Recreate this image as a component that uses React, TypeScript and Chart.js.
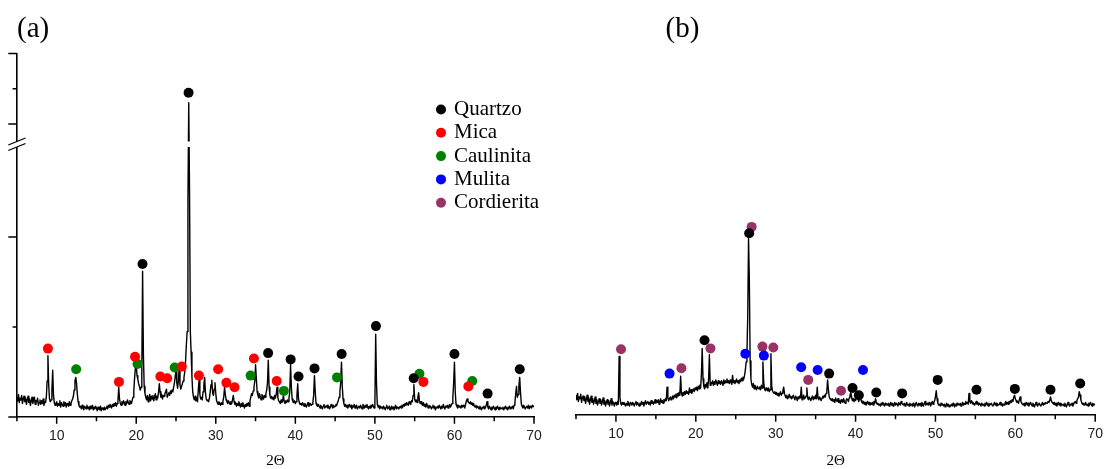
import { useEffect, useRef } from 'react';
import { Chart, LinearScale, registerables } from 'chart.js';

// Diffractogram sampling: 2θ from 5° to 70° in 0.1° steps
const TWO_THETA_START = 5;
const TWO_THETA_STEP = 0.1;

// Pattern (a): intensity per 0.1° step, one row per degree (5°, 6°, ... 70°)
const intensityA = [
  22, 18, 25, 16, 21, 19, 24, 15, 20, 23,
  17, 21, 14, 19, 23, 16, 20, 13, 18, 22,
  15, 19, 22, 14, 18, 17, 21, 13, 16, 19,
  14, 18, 15, 20, 13, 17, 16, 22, 40, 68,
  35, 20, 17, 19, 30, 52, 24, 16, 13, 15,
  17, 12, 15, 13, 18, 11, 16, 14, 12, 17,
  13, 16, 11, 15, 14, 12, 17, 13, 15, 18,
  20, 23, 30, 40, 44, 37, 25, 17, 13, 11,
  12, 9, 13, 10, 8, 12, 11, 9, 13, 10,
  11, 8, 12, 9, 10, 13, 8, 11, 9, 12,
  10, 7, 11, 9, 8, 12, 7, 10, 9, 8,
  11, 8, 10, 12, 9, 13, 11, 14, 12, 10,
  14, 12, 15, 13, 16, 12, 15, 18, 33, 20,
  15, 13, 17, 14, 18, 16, 13, 17, 15, 19,
  16, 14, 18, 17, 15, 19, 22, 30, 44, 55,
  58, 46, 42, 37, 34, 30, 33, 48, 162, 70,
  34, 26, 22, 19, 24, 17, 21, 25, 18, 23,
  20, 24, 18, 22, 26, 19, 23, 21, 27, 37,
  28, 22, 25, 20, 24, 23, 26, 28, 31, 22,
  25, 27, 24, 29, 26, 30, 28, 33, 38, 45,
  52, 38, 32, 40, 55, 36, 31, 34, 37, 40,
  44, 50, 62, 80, 95, 240, 920, 250, 95, 72,
  45, 28, 22, 19, 23, 18, 21, 17, 30, 41,
  25, 20, 22, 19, 28, 36, 44, 27, 20, 18,
  19, 17, 21, 28, 36, 41, 27, 24, 31, 38,
  26, 18, 16, 14, 17, 15, 13, 16, 14, 18,
  22, 33, 25, 19, 17, 15, 18, 16, 14, 17,
  15, 19, 24, 17, 14, 16, 12, 15, 13, 17,
  14, 11, 15, 12, 16, 13, 10, 14, 12, 15,
  13, 16, 12, 18, 22, 26, 24, 29, 33, 40,
  58, 42, 28, 24, 21, 26, 22, 19, 25, 23,
  20, 24, 22, 26, 30, 38, 63, 33, 24, 21,
  23, 20, 22, 19, 24, 21, 26, 33, 22, 18,
  17, 15, 19, 16, 18, 24, 17, 15, 18, 16,
  19, 17, 21, 28, 58, 33, 20, 17, 16, 18,
  15, 17, 24, 37, 20, 16, 14, 15, 13, 16,
  14, 12, 15, 13, 11, 14, 16, 12, 13, 15,
  13, 14, 16, 24, 46, 28, 15, 13, 12, 14,
  12, 10, 13, 11, 9, 12, 14, 10, 12, 11,
  13, 10, 12, 9, 11, 14, 12, 10, 13, 11,
  12, 14, 13, 16, 18, 22, 28, 38, 61, 34,
  20, 15, 12, 14, 11, 13, 10, 12, 14, 11,
  13, 9, 12, 11, 14, 10, 12, 13, 9, 11,
  12, 10, 13, 11, 9, 14, 12, 10, 13, 11,
  14, 11, 9, 12, 10, 13, 11, 14, 12, 10,
  15, 92, 38, 14, 11, 13, 9, 12, 10, 11,
  9, 12, 10, 8, 11, 13, 9, 10, 12, 8,
  10, 12, 9, 11, 8, 10, 13, 9, 11, 10,
  9, 11, 12, 10, 13, 11, 14, 12, 15, 13,
  16, 14, 13, 17, 15, 14, 18, 17, 24, 36,
  20, 17, 19, 16, 22, 27, 18, 15, 17, 14,
  13, 16, 12, 14, 11, 15, 12, 10, 13, 11,
  12, 9, 11, 13, 10, 12, 8, 11, 10, 12,
  10, 13, 11, 9, 12, 10, 14, 11, 9, 12,
  11, 13, 10, 12, 14, 11, 13, 15, 22, 38,
  61, 28, 14, 12, 10, 13, 11, 12, 10, 13,
  11, 13, 12, 10, 14, 18, 20, 17, 16, 15,
  17, 14, 16, 13, 15, 12, 11, 13, 10, 12,
  11, 9, 12, 10, 8, 11, 10, 12, 9, 11,
  13, 17, 11, 9, 12, 10, 8, 11, 9, 12,
  10, 8, 11, 9, 12, 10, 8, 11, 9, 10,
  9, 11, 8, 10, 12, 9, 11, 8, 10, 12,
  9, 11, 10, 12, 9, 13, 16, 26, 34, 22,
  25, 35, 44, 28, 15, 12, 10, 13, 11, 9,
  11, 12, 10, 13, 9, 12, 11, 10, 13, 12,
  11,
];

// Pattern (b): intensity per 0.1° step, one row per degree (5°, 6°, ... 70°)
const intensityB = [
  22, 17, 24, 15, 20, 18, 23, 14, 19, 21,
  16, 20, 13, 18, 22, 15, 19, 12, 17, 21,
  14, 18, 12, 16, 20, 13, 17, 11, 15, 18,
  13, 17, 11, 15, 19, 12, 16, 10, 14, 17,
  12, 16, 10, 14, 18, 11, 15, 13, 10, 14,
  13, 11, 15, 12, 65, 20, 13, 11, 14, 12,
  14, 12, 10, 13, 11, 15, 12, 10, 14, 13,
  11, 14, 12, 10, 13, 15, 11, 14, 12, 10,
  13, 11, 15, 12, 14, 10, 13, 16, 12, 14,
  15, 12, 14, 11, 16, 13, 15, 12, 14, 17,
  13, 16, 14, 17, 12, 15, 18, 14, 16, 13,
  17, 15, 18, 16, 31, 19, 16, 18, 20, 17,
  19, 21, 18, 22, 20, 23, 19, 24, 21, 25,
  22, 43, 24, 21, 25, 22, 26, 23, 27, 24,
  26, 23, 30, 25, 28, 24, 27, 29, 26, 30,
  28, 31, 27, 32, 29, 33, 30, 45, 74, 40,
  32, 29, 34, 31, 36, 30, 40, 67, 33, 36,
  35, 38, 33, 37, 34, 39, 36, 33, 38, 35,
  37, 34, 38, 36, 33, 39, 35, 38, 36, 40,
  36, 38, 35, 39, 37, 34, 44, 36, 38, 35,
  37, 40, 36, 38, 35, 39, 37, 41, 38, 42,
  40, 44, 50, 59, 68, 110, 196, 150, 60, 40,
  34, 31, 35, 29, 33, 30, 28, 32, 30, 29,
  31, 28, 33, 30, 59, 36, 29, 27, 30, 28,
  27, 30, 26, 28, 68, 32, 27, 25, 24, 26,
  23, 25, 22, 24, 21, 23, 26, 22, 24, 27,
  31, 24, 21, 19, 22, 18, 20, 23, 19, 21,
  18, 20, 22, 19, 17, 21, 19, 16, 20, 18,
  21, 19, 31, 17, 20, 22, 18, 19, 21, 30,
  19, 17, 20, 18, 16, 19, 21, 17, 20, 18,
  22, 18, 31, 19, 17, 20, 18, 16, 19, 21,
  19, 22, 20, 24, 27, 39, 28, 20, 18, 17,
  16, 18, 15, 17, 14, 19, 16, 15, 18, 14,
  16, 13, 17, 15, 14, 18, 15, 13, 16, 18,
  17, 15, 19, 22, 25, 20, 16, 18, 15, 17,
  16, 20, 25, 18, 15, 19, 22, 16, 14, 13,
  15, 12, 14, 11, 13, 15, 12, 14, 11, 13,
  12, 14, 11, 15, 13, 18, 14, 12, 13, 11,
  12, 10, 13, 11, 14, 12, 10, 13, 11, 12,
  11, 13, 10, 12, 14, 11, 13, 10, 12, 14,
  11, 13, 12, 10, 14, 12, 11, 15, 13, 12,
  11, 13, 10, 12, 14, 11, 12, 10, 13, 11,
  12, 10, 13, 11, 9, 12, 14, 11, 10, 13,
  11, 13, 10, 14, 12, 10, 13, 15, 11, 12,
  13, 11, 14, 12, 10, 13, 15, 12, 14, 16,
  20, 27, 18, 13, 11, 12, 10, 13, 11, 12,
  10, 12, 9, 11, 13, 10, 12, 9, 11, 10,
  12, 10, 13, 11, 9, 12, 10, 13, 11, 12,
  11, 13, 10, 12, 14, 11, 13, 12, 15, 13,
  14, 12, 24, 15, 13, 16, 14, 12, 13, 11,
  13, 15, 12, 14, 11, 13, 12, 10, 13, 11,
  12, 10, 13, 11, 14, 12, 10, 13, 11, 12,
  13, 11, 10, 12, 14, 11, 13, 10, 12, 11,
  12, 14, 11, 13, 10, 12, 11, 13, 15, 12,
  14, 12, 15, 13, 16, 14, 17, 15, 20, 22,
  18, 16, 14, 15, 13, 17, 20, 15, 13, 12,
  11, 13, 10, 12, 14, 11, 13, 10, 12, 14,
  12, 10, 13, 11, 9, 12, 14, 11, 10, 12,
  13, 11, 10, 12, 14, 11, 13, 12, 14, 13,
  13, 15, 14, 16, 20, 16, 14, 13, 12, 14,
  11, 13, 10, 12, 14, 11, 13, 10, 12, 11,
  12, 10, 13, 11, 9, 12, 14, 11, 10, 12,
  11, 13, 10, 12, 14, 15, 13, 16, 18, 20,
  26, 22, 17, 14, 12, 13, 11, 12, 14, 11,
  12, 10, 13, 11, 14, 12, 10, 13, 11, 12,
  11,
];

// Phase identification markers: [2θ, intensity]
const quartzA = [[20.79, 170], [26.58, 977], [36.58, 71], [39.41, 64], [40.4, 45], [42.41, 54], [45.82, 70], [50.13, 101], [54.88, 43], [60.0, 70], [64.17, 26], [68.21, 53]];
const micaA = [[8.9, 76], [17.83, 39], [19.85, 67], [23.03, 45], [23.89, 43], [25.73, 56], [27.88, 46], [30.3, 53], [31.33, 38], [32.36, 33], [34.79, 65], [37.66, 40], [56.1, 39], [61.75, 34]];
const caulinitaA = [[12.45, 53], [20.16, 59], [24.83, 55], [34.38, 46], [38.56, 29], [45.24, 44], [55.6, 48], [62.24, 40]];

const quartzB = [[21.09, 83], [26.68, 202], [36.69, 46], [39.62, 30], [40.41, 22], [42.59, 25], [45.83, 24], [50.28, 39], [55.14, 28], [59.94, 29], [64.4, 28], [68.12, 35]];
const mulitaB = [[16.71, 46], [26.2, 68], [28.52, 66], [33.19, 53], [35.25, 50], [40.93, 50]];
const cordieritaB = [[10.64, 73], [18.2, 52], [21.83, 74], [26.99, 209], [28.34, 76], [29.7, 75], [34.07, 39], [38.18, 27]];

// Legend entries
const phaseNames = ['Quartzo', 'Mica', 'Caulinita', 'Mulita', 'Cordierita'];
const phaseColors = ['#000000', '#ff0000', '#008000', '#0000ff', '#993366'];

// Axis tick marks
const xLabelTicks = [10, 20, 30, 40, 50, 60, 70];
const xMinorTicks = [5, 15, 25, 35, 45, 55, 65];
const yMajorTicksA = [0, 200, 800, 1200];
const yMinorTicksA = [100, 1000];

// Broken intensity axis of pattern (a)
const BREAK_START = 300;
const BREAK_END = 700;

// Linear scale with a compressed upper segment above an axis break
class BrokenLinearScale extends LinearScale {
  static id = 'brokenLinear';

  toDecimal(v: number) {
    const o: any = this.options;
    const bs = o.breakStart, be = o.breakEnd, ls = o.lowerShare, gs = o.gapShare;
    if (v <= bs) return ((v - this.min) / (bs - this.min)) * ls;
    if (v < be) return ls + ((v - bs) / (be - bs)) * gs;
    return ls + gs + ((v - be) / (this.max - be)) * (1 - ls - gs);
  }

  getPixelForValue(value: number) {
    if (value === null || value === undefined || isNaN(value)) return NaN;
    return this.getPixelForDecimal(this.toDecimal(value));
  }

  getValueForPixel(pixel: number) {
    const o: any = this.options;
    const bs = o.breakStart, be = o.breakEnd, ls = o.lowerShare, gs = o.gapShare;
    const d = this.getDecimalForPixel(pixel);
    if (d <= ls) return this.min + (d / ls) * (bs - this.min);
    if (d < ls + gs) return bs + ((d - ls) / gs) * (be - bs);
    return be + ((d - ls - gs) / (1 - ls - gs)) * (this.max - be);
  }
}

Chart.register(...registerables, BrokenLinearScale);

const SERIF = '"Liberation Serif", "Times New Roman", serif';
const SANS = '"Liberation Sans", Arial, sans-serif';

function patternPoints(values: number[]) {
  return values.map((y, i) => ({ x: +(TWO_THETA_START + i * TWO_THETA_STEP).toFixed(1), y }));
}

function markerDataset(label: string, points: number[][], color: string) {
  return {
    label,
    data: points.map(([x, y]) => ({ x, y })),
    showLine: false,
    pointRadius: 5,
    pointHoverRadius: 5,
    pointBorderWidth: 0,
    pointBackgroundColor: color,
    borderColor: color,
    backgroundColor: color,
  };
}

function patternDataset(values: number[]) {
  return {
    label: 'pattern',
    data: patternPoints(values),
    borderColor: '#000',
    borderWidth: 1.4,
    borderJoinStyle: 'round',
    pointRadius: 0,
    tension: 0,
    fill: false,
  };
}

function xScale(height: number) {
  return {
    type: 'linear',
    min: 5,
    max: 70,
    afterBuildTicks: (s: any) => {
      s.ticks = xLabelTicks.map((v) => ({ value: v }));
    },
    afterFit: (s: any) => {
      s.height = height;
    },
    grid: { display: true, drawOnChartArea: false, drawTicks: true, tickLength: 7, color: 'rgba(0,0,0,0)' },
    border: { display: true, color: '#000', width: 1.6 },
    ticks: {
      padding: 4,
      color: '#222',
      autoSkip: false,
      maxRotation: 0,
      font: { family: SANS, size: 14 },
      callback: (v: any) => String(v),
    },
    title: {
      display: true,
      text: '2Θ',
      color: '#000',
      font: { family: SERIF, size: 15, lineHeight: 1 },
      padding: { top: 0, bottom: 0 },
    },
  };
}

// Panel decorations: tick marks, axis break, panel tag and legend
function panelDecor(tag: string, tagX: number, withYAxis: boolean, withLegend: boolean) {
  return {
    id: 'panelDecor',
    afterDatasetsDraw(chart: any) {
      if (!withYAxis) return;
      const { ctx, chartArea } = chart;
      const y = chart.scales.y;
      const top = y.getPixelForValue(BREAK_END);
      const bottom = y.getPixelForValue(BREAK_START);
      ctx.save();
      ctx.fillStyle = '#fff';
      ctx.fillRect(chartArea.left + 1, top, chartArea.right - chartArea.left, bottom - top);
      ctx.restore();
    },
    afterDraw(chart: any) {
      const { ctx, chartArea } = chart;
      const x = chart.scales.x;
      const { left, bottom } = chartArea;
      ctx.save();
      ctx.strokeStyle = '#000';
      ctx.lineWidth = 1.5;
      ctx.beginPath();
      for (const v of xLabelTicks) {
        const px = x.getPixelForValue(v);
        ctx.moveTo(px, bottom);
        ctx.lineTo(px, bottom + 6.7);
      }
      for (const v of xMinorTicks) {
        const px = x.getPixelForValue(v);
        ctx.moveTo(px, bottom);
        ctx.lineTo(px, bottom + 4.3);
      }
      ctx.stroke();

      if (withYAxis) {
        const y = chart.scales.y;
        ctx.beginPath();
        for (const v of yMajorTicksA) {
          const py = y.getPixelForValue(v);
          ctx.moveTo(left - 8.6, py);
          ctx.lineTo(left, py);
        }
        for (const v of yMinorTicksA) {
          const py = y.getPixelForValue(v);
          ctx.moveTo(left - 4.3, py);
          ctx.lineTo(left, py);
        }
        ctx.stroke();

        // axis break: gap between two slanted strokes
        const pTop = y.getPixelForValue(BREAK_END);
        const pBot = y.getPixelForValue(BREAK_START);
        const dx = 8.6;
        const dy = 3.5;
        ctx.fillStyle = '#fff';
        ctx.beginPath();
        ctx.moveTo(left - dx, pTop + dy);
        ctx.lineTo(left + dx, pTop - dy);
        ctx.lineTo(left + dx, pBot - dy);
        ctx.lineTo(left - dx, pBot + dy);
        ctx.closePath();
        ctx.fill();
        ctx.lineWidth = 1.3;
        ctx.beginPath();
        ctx.moveTo(left - dx, pTop + dy);
        ctx.lineTo(left + dx, pTop - dy);
        ctx.moveTo(left - dx, pBot + dy);
        ctx.lineTo(left + dx, pBot - dy);
        ctx.stroke();
      }

      // panel tag
      ctx.fillStyle = '#000';
      ctx.font = `29px ${SERIF}`;
      ctx.textAlign = 'left';
      ctx.textBaseline = 'alphabetic';
      ctx.fillText(tag, tagX, 37);

      if (withLegend) {
        ctx.font = `21px ${SERIF}`;
        ctx.textBaseline = 'middle';
        phaseNames.forEach((name, i) => {
          const cy = 109.5 + i * 23.3;
          ctx.fillStyle = phaseColors[i];
          ctx.beginPath();
          ctx.arc(441, cy, 5, 0, Math.PI * 2);
          ctx.fill();
          ctx.fillStyle = '#000';
          ctx.fillText(name, 454, cy);
        });
      }
      ctx.restore();
    },
  };
}

function configA(): any {
  return {
    type: 'line',
    data: {
      datasets: [
        markerDataset('Quartzo', quartzA, phaseColors[0]),
        markerDataset('Mica', micaA, phaseColors[1]),
        markerDataset('Caulinita', caulinitaA, phaseColors[2]),
        patternDataset(intensityA),
      ],
    },
    options: {
      animation: false,
      responsive: false,
      events: [],
      layout: { padding: { left: 0, right: 26, top: 53.5, bottom: 0 } },
      plugins: { legend: { display: false }, tooltip: { enabled: false } },
      scales: {
        x: xScale(52),
        y: {
          type: 'brokenLinear',
          min: 0,
          max: 1200,
          breakStart: BREAK_START,
          breakEnd: BREAK_END,
          lowerShare: 270 / 363.5,
          gapShare: 5.5 / 363.5,
          afterFit: (s: any) => {
            s.width = 16.9;
          },
          ticks: { display: false },
          grid: { display: false },
          border: { display: true, color: '#000', width: 1.6 },
        },
      },
    },
    plugins: [panelDecor('(a)', 17, true, true)],
  };
}

function configB(): any {
  return {
    type: 'line',
    data: {
      datasets: [
        markerDataset('Quartzo', quartzB, phaseColors[0]),
        markerDataset('Mulita', mulitaB, phaseColors[3]),
        markerDataset('Cordierita', cordieritaB, phaseColors[4]),
        patternDataset(intensityB),
      ],
    },
    options: {
      animation: false,
      responsive: false,
      events: [],
      layout: { padding: { left: 16, right: 11.3, top: 55, bottom: 0 } },
      plugins: { legend: { display: false }, tooltip: { enabled: false } },
      scales: {
        x: xScale(54),
        y: { type: 'linear', display: false, min: 0, max: 400 },
      },
    },
    plugins: [panelDecor('(b)', 105.5, false, false)],
  };
}

export default function App() {
  const refA = useRef<HTMLCanvasElement>(null);
  const refB = useRef<HTMLCanvasElement>(null);

  useEffect(() => {
    document.body.style.margin = '0';
    const a = new Chart(refA.current as HTMLCanvasElement, configA());
    const b = new Chart(refB.current as HTMLCanvasElement, configB());
    return () => {
      a.destroy();
      b.destroy();
    };
  }, []);

  return (
    <div style={{ position: 'relative', width: 1107, height: 469, background: '#fff' }}>
      <canvas
        ref={refA}
        width={560}
        height={469}
        style={{ position: 'absolute', left: 0, top: 0, width: 560, height: 469 }}
      />
      <canvas
        ref={refB}
        width={547}
        height={469}
        style={{ position: 'absolute', left: 560, top: 0, width: 547, height: 469 }}
      />
    </div>
  );
}
